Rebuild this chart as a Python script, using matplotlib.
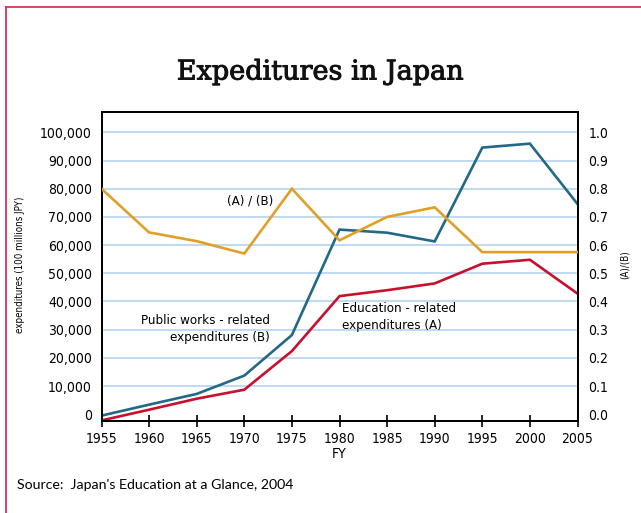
import matplotlib
matplotlib.use("Agg")
import os
import matplotlib.pyplot as plt
import matplotlib.patheffects as pe
from matplotlib.lines import Line2D
from matplotlib import font_manager as fm

years = [1955, 1960, 1965, 1970, 1975, 1980, 1985, 1990, 1995, 2000, 2005]
public_works = [-500, 3400, 7200, 13700, 28100, 65500, 64400, 61300, 94600, 96000, 74600]
education = [-2200, 1600, 5500, 8700, 22400, 41900, 44000, 46400, 53400, 54800, 42800]
ratio = [0.80, 0.645, 0.614, 0.57, 0.80, 0.617, 0.70, 0.734, 0.575, 0.575, 0.575]

left_ticks = [0, 10000, 20000, 30000, 40000, 50000, 60000, 70000, 80000, 90000, 100000]
right_ticks = [0.0, 0.1, 0.2, 0.3, 0.4, 0.5, 0.6, 0.7, 0.8, 0.9, 1.0]
x_ticks = [1955, 1960, 1965, 1970, 1975, 1980, 1985, 1990, 1995, 2000, 2005]

BLUE = "#236987"
ORANGE = "#e0a028"
RED = "#c8102e"
GRID = "#b9d7f0"
BORDER = "#d8335c"

files = fm.findSystemFonts() + [f.fname for f in fm.fontManager.ttflist]
narrow_file = None
for pref in ["LiberationSansNarrow-Regular", "DejaVuSansCondensed.ttf"]:
    for f in files:
        if pref.lower() in os.path.basename(f).lower():
            narrow_file = f
            break
    if narrow_file:
        break

def NF(size):
    if narrow_file:
        return fm.FontProperties(fname=narrow_file, size=size)
    return fm.FontProperties(family="Liberation Sans", size=size)

fig = plt.figure(figsize=(6.41, 5.13), dpi=100)
ax = fig.add_axes([101.5/641, 1-420.7/513, (577.5-101.5)/641, (420.7-111.5)/513])

ymin, ymax = -2300, 107400
ax.set_xlim(1955, 2005)
ax.set_ylim(ymin, ymax)

for v in left_ticks[1:]:
    ax.axhline(v, color=GRID, lw=1.3, zorder=0)

ax.plot(years, public_works, color=BLUE, lw=1.9, solid_joinstyle="miter", zorder=3)
ax.plot(years, education, color=RED, lw=1.9, solid_joinstyle="miter", zorder=3)

ax2 = ax.twinx()
ax2.set_ylim(ymin/100000, ymax/100000)
ax2.plot(years, ratio, color=ORANGE, lw=1.9, solid_joinstyle="miter", zorder=3)

ax.set_xticks(x_ticks)
ax.set_xticklabels([str(y) for y in x_ticks], fontproperties=NF(10))
ax.tick_params(axis="x", direction="inout", length=8, width=1.2, pad=4)
ax.set_yticks(left_ticks)
ax.set_yticklabels([f"{v:,}" for v in left_ticks], fontproperties=NF(10))
ax.tick_params(axis="y", length=0, pad=7)
ax2.set_yticks(right_ticks)
ax2.set_yticklabels([f"{v:.1f}" for v in right_ticks], fontproperties=NF(10))
ax2.tick_params(axis="y", length=0, pad=8)

for a in (ax, ax2):
    for s in a.spines.values():
        s.set_linewidth(1.4)
        s.set_color("black")

ax.set_xlabel("FY", fontproperties=NF(10), labelpad=1)
fig.text(20/641, 1-265/513, "expenditures (100 millions JPY)", rotation=90,
         ha="center", va="center", fontproperties=NF(7))
fig.text(625/641, 1-265/513, "(A)/(B)", rotation=90,
         ha="center", va="center", fontproperties=NF(7))

ax.text(1970.6, 75800, "(A) / (B)", ha="center", va="center", fontproperties=NF(9.5))
ax.text(1972.7, 30200, "Public works - related\nexpenditures (B)", ha="right", va="center",
        fontproperties=NF(9.5), linespacing=1.4)
ax.text(1980.3, 34500, "Education - related\nexpenditures (A)", ha="left", va="center",
        fontproperties=NF(9.5), linespacing=1.4)

fig.text(0.5, 1-72/513, "Expeditures in Japan", ha="center", va="center",
         family=["DejaVu Serif"], fontsize=19.5, color="#111111",
         path_effects=[pe.withStroke(linewidth=0.7, foreground="#111111")])
fig.text(17/641, 1-485/513, "Source:  Japan's Education at a Glance, 2004", ha="left", va="center",
         family=["Lato", "DejaVu Sans"], fontsize=10.2)

fig.add_artist(Line2D([5.5/641, 5.5/641], [0, 1-6.5/513], color=BORDER, lw=1.3, transform=fig.transFigure))
fig.add_artist(Line2D([5.5/641, 1], [1-6.5/513, 1-6.5/513], color=BORDER, lw=1.3, transform=fig.transFigure))

fig.savefig("out.png", dpi=100)
